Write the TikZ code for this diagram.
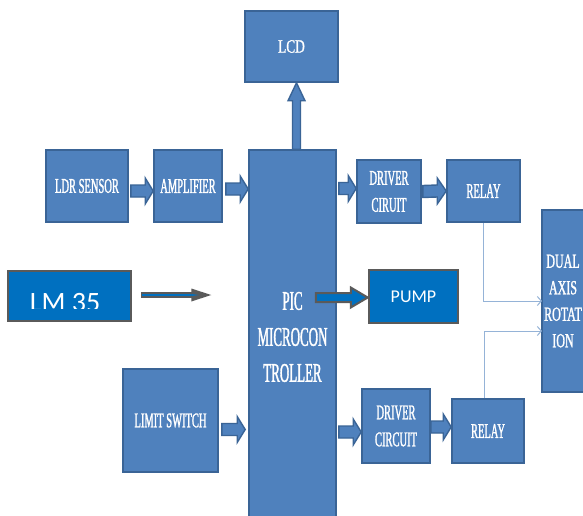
\documentclass[tikz,border=0pt]{standalone}
\usepackage{fontspec}
\setmainfont{Liberation Serif}
\newfontfamily\cond[FakeStretch=0.5,FakeBold=1.2]{Liberation Serif}
\newfontfamily\condp[FakeStretch=0.48,FakeBold=1.2]{Liberation Serif}
\newfontfamily\condb[FakeStretch=0.6,FakeBold=1.2]{Liberation Serif}
\newfontfamily\condc[FakeStretch=0.7,FakeBold=1]{Liberation Serif}
\newfontfamily\calib{Carlito}
\usetikzlibrary{calc,arrows.meta}
\definecolor{boxblue}{HTML}{4F81BD}
\definecolor{bdr}{HTML}{3A6496}
\definecolor{pumpblue}{HTML}{0070C0}
\definecolor{grayb}{HTML}{5A5A5A}
\definecolor{conncol}{HTML}{95B3D7}
\newcommand\harrow[5]{%
  \draw[blockar] ($(#1)+(0,#3)$) -- ($(#2)+(-#5,#3)$) -- ($(#2)+(-#5,#4)$) -- (#2)
    -- ($(#2)+(-#5,-#4)$) -- ($(#2)+(-#5,-#3)$) -- ($(#1)+(0,-#3)$) -- cycle;}
\begin{document}
\begin{tikzpicture}[x=1pt,y=-1pt,
  box/.style={draw=bdr, fill=boxblue, line width=1.6pt, inner sep=0pt, align=center,
    text=white, font=\cond\fontsize{21}{27}\selectfont},
  pbox/.style={draw=grayb, fill=pumpblue, line width=2.5pt, inner sep=0pt, text=white},
  blockar/.style={draw=bdr, fill=boxblue, line width=1.4pt, line join=miter},
  pumpar/.style={draw=grayb, fill=pumpblue, line width=2pt, line join=miter},
  conn/.style={draw=conncol, line width=1pt, -{Straight Barb[length=4pt,width=9pt]}}]
\clip (0,0) rectangle (583,516);
\fill[white] (0,0) rectangle (583,516);
% boxes
\node[box, minimum width=93pt, minimum height=71pt,
  font=\condc\fontsize{19}{23}\selectfont] (lcd) at (291.5,46.5) {LCD};
\node[box, minimum width=82pt, minimum height=72pt] (ldr) at (87,186) {LDR SENSOR};
\node[box, minimum width=68pt, minimum height=72pt] (amp) at (188,186) {AMPLIFIER};
\node[box, minimum width=87pt, minimum height=374pt,
  font=\condp\fontsize{27}{36}\selectfont] (pic) at (292.5,337) {PIC\\MICROCON\\TROLLER};
\node[box, minimum width=64pt, minimum height=63pt] (drv1) at (389,191.5) {DRIVER\\CIRUIT};
\node[box, minimum width=73pt, minimum height=62pt] (rel1) at (483.5,191) {RELAY};
\node[box, minimum width=42pt, minimum height=182pt,
  font=\condb\fontsize{20}{26.5}\selectfont] (dual) at (563,301) {DUAL\\AXIS\\ROTAT\\ION};
\node[pbox, minimum width=89pt, minimum height=53pt, font=\calib\fontsize{18}{20}\selectfont]
  (pump) at (413.5,296.5) {PUMP};
\node[pbox, minimum width=123pt, minimum height=50pt] (lm) at (69.5,296) {};
\begin{scope}
  \clip (10,272) rectangle (130,308);
  \node[text=white, font=\calib\fontsize{28}{30}\selectfont, anchor=base, inner sep=0pt]
    (lmt) at (65,311) {LM 35};
\end{scope}
\node[box, minimum width=95pt, minimum height=103pt] (lim) at (170.5,420.5) {LIMIT SWITCH};
\node[box, minimum width=68pt, minimum height=74pt] (drv2) at (396,426) {DRIVER\\CIRCUIT};
\node[box, minimum width=72pt, minimum height=64pt] (rel2) at (488,431) {RELAY};
% block arrows
\harrow{$(ldr.east)+(2,5)$}{$(amp.west)+(0,5)$}{6}{13}{8}
\harrow{$(amp.east)+(3,3)$}{$(pic.west |- amp.east)+(0,3)$}{6}{13}{8}
\harrow{$(pic.east |- drv1.west)+(2,-3)$}{$(drv1.west)+(0,-3)$}{6}{13}{8}
\harrow{$(drv1.east)+(1,0)$}{$(rel1.west)+(0,0)$}{6}{13}{9}
\harrow{$(lim.east)+(3,9)$}{$(pic.west |- lim.east)+(-3,9)$}{6}{13}{8}
\harrow{$(pic.east |- drv2.west)+(2,6)$}{$(drv2.west)+(0,6)$}{6}{13}{8}
\harrow{$(drv2.east)+(0,1)$}{$(rel2.west)+(0,-4)$}{6}{13}{8}
% vertical arrow PIC -> LCD
\coordinate (ub) at ($(pic.north)+(4,0)$);
\coordinate (ut) at ($(lcd.south)+(5,0)$);
\draw[blockar] ($(ub)+(-4,0)$) -- ($(ut)+(-4,18)$) -- ($(ut)+(-8.5,18)$) -- (ut)
  -- ($(ut)+(8.5,18)$) -- ($(ut)+(4,18)$) -- ($(ub)+(4,0)$) -- cycle;
% PIC -> PUMP arrow
\coordinate (ps) at ($(pic.east |- pump.west)+(-21,1)$);
\coordinate (pe) at ($(pump.west)+(0,1)$);
\draw[pumpar] ($(ps)+(0,-4.5)$) -- ($(pe)+(-17,-4.5)$) -- ($(pe)+(-17,-10)$) -- (pe)
  -- ($(pe)+(-17,10)$) -- ($(pe)+(-17,4.5)$) -- ($(ps)+(0,4.5)$) -- cycle;
% LM35 arrow
\coordinate (ls) at ($(lm.east)+(9,-1)$);
\coordinate (le) at ($(lm.east)+(79,-1)$);
\draw[grayb, line width=6pt] (ls) -- ($(le)+(-18,0)$);
\draw[pumpblue, line width=2pt] ($(ls)+(1,0)$) -- ($(le)+(-18,0)$);
\fill[grayb] ($(le)+(-20,-6.5)$) -- (le) -- ($(le)+(-20,6.5)$) -- cycle;
\fill[pumpblue] ($(le)+(-20,-1)$) -- ($(le)+(-12,0)$) -- ($(le)+(-20,1)$) -- cycle;
% relay -> dual connectors
\coordinate (d1) at (542,301);
\coordinate (d2) at (542,331);
\draw[conn] (rel1.south) |- (d1);
\draw[conn] ([xshift=-4pt]rel2.north) |- (d2);
\end{tikzpicture}
\end{document}
